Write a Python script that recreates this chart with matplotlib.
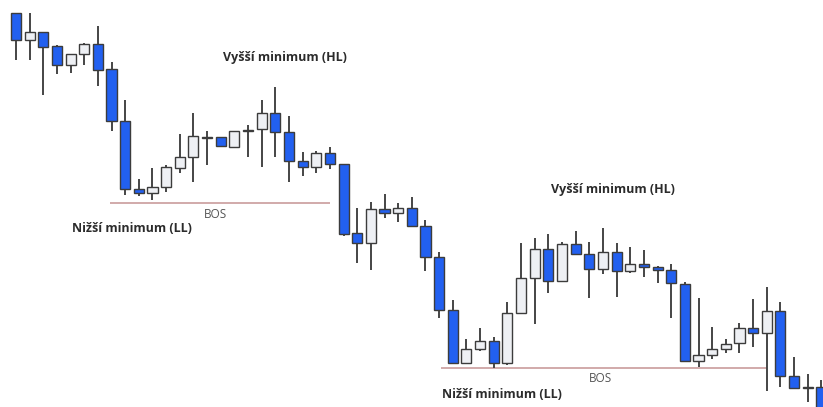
import numpy as np
import matplotlib
matplotlib.use("Agg")
import matplotlib.pyplot as plt

# candle data (arbitrary price units), one entry per candle
opens = [417, 390, 398, 384, 365, 376, 386, 361, 309, 241,
         237, 243, 262, 273, 292.5, 293, 283, 299.5, 301, 317,
         298, 269, 263, 277, 266, 197, 187, 221, 217, 222,
         204, 173, 120, 67, 81, 89, 67, 117, 152, 181,
         149, 186, 176, 161, 178, 159, 166, 163, 160, 146,
         69, 75, 81, 87, 102, 97, 119, 54, 42.5, 43]
closes = [390, 398, 383, 365, 376, 386, 360, 309, 241, 237,
          243, 263, 273, 294, 293.5, 284, 299, 300.5, 317, 298,
          269, 263, 277, 266, 196, 187, 221, 217, 222, 204,
          173, 120, 67, 81, 89, 67, 117, 152, 181, 149,
          186, 176, 161, 178, 159, 166, 163, 160, 147, 69,
          75, 81, 86, 102, 97, 119, 54, 42, 43.5, 10]
highs = [417, 417, 398, 385, 376, 387, 404, 368, 330, 251,
         262, 265, 296, 317, 299, 293, 299, 305, 330, 343,
         314, 278, 279, 283, 266, 222, 228, 236, 227, 233,
         210, 178, 130, 91, 102, 93, 128, 187, 192, 196,
         188, 199, 188, 202, 187, 183, 180, 164, 166, 148,
         132, 103, 91, 107, 131, 143, 128, 73, 56, 50]
lows = [370, 370, 335, 356, 357, 365, 344, 299, 235, 234,
        230, 238, 257, 248, 265, 283, 283, 273, 263, 273,
        248, 254, 257, 261, 194, 167, 160, 212, 208, 204,
        159, 112, 67, 67, 79, 62, 65, 117, 106, 137,
        149, 175, 132, 156, 133, 157, 153, 147, 112, 69,
        63, 71, 77, 77, 83, 39, 43, 42, 28, 10]

# break of structure levels: (level, start index, end index)
bos_levels = [(227, 6.9, 23.0), (62, 31.1, 55.0)]

labels = ["Vyšší minimum (HL)", "Nižší minimum (LL)", "BOS",
          "Vyšší minimum (HL)", "BOS", "Nižší minimum (LL)"]
label_pos = [(19.7, 373), (8.5, 202), (14.6, 216),
             (43.7, 241), (42.8, 52), (35.6, 35)]

BLUE = '#2260f0'
LIGHT = '#eef0f4'
EDGE = '#3c3c3c'

fig = plt.figure(figsize=(8.23, 4.07), dpi=100)
ax = fig.add_axes([0, 0, 1, 1])

idx = np.arange(len(opens))
o = np.array(opens)
c = np.array(closes)
up = c >= o
colors = [LIGHT if u else BLUE for u in up]

ax.vlines(idx, lows, highs, color='#454545', linewidth=1.4, zorder=1)
bottom = np.minimum(o, c)
height = np.maximum(np.abs(c - o), 1.0)
ax.bar(idx, height, bottom=bottom, width=0.74, color=colors,
       edgecolor=EDGE, linewidth=1.0, zorder=2)

for level, x0, x1 in bos_levels:
    ax.hlines(level, x0, x1, color='#c99c9c', linewidth=1.2, zorder=0)

for txt, (x, y) in zip(labels, label_pos):
    if txt == "BOS":
        ax.text(x, y, txt, ha='center', va='center', fontsize=8.5,
                color='#555555', family='Open Sans')
    else:
        ax.text(x, y, txt, ha='center', va='center', fontsize=9,
                color='#2b2b2b', fontweight='bold', family='Open Sans')

ax.set_xlim(-1.17, 59.12)
ax.set_ylim(23, 430)
ax.axis('off')

fig.savefig('out.png', dpi=100, facecolor='white')
